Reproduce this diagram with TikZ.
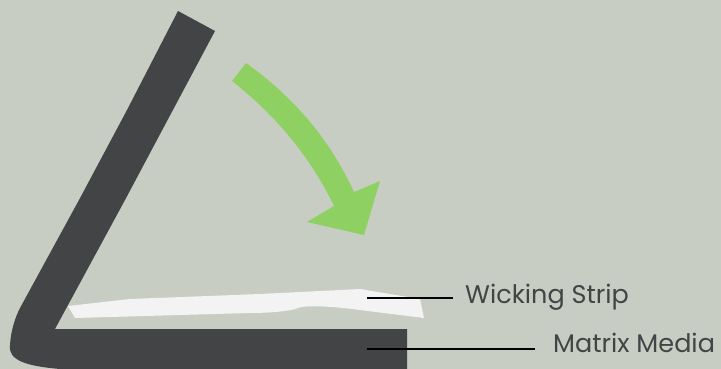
\documentclass[tikz,border=0pt]{standalone}
\usepackage{fontspec}
\setmainfont{Poppins}
\definecolor{bg}{HTML}{C8CDC3}
\definecolor{dark}{HTML}{434446}
\definecolor{strip}{HTML}{F3F3F3}
\definecolor{arrowgreen}{HTML}{8FD063}
\tikzset{
  leader/.style={draw=black, line width=2.8pt},
  lbl/.style={anchor=base west, inner sep=0pt, text=dark, font=\fontsize{25.5}{28}\selectfont}
}
\begin{document}
\begin{tikzpicture}[x=1pt,y=-1pt]
\fill[bg] (0,0) rectangle (721,369);
\useasboundingbox (0,0) rectangle (721,369);
% dark L-shaped media
\fill[dark] (178,11) -- (215,31) -- (125,200) -- (55,329) -- (407,329) -- (407,369) -- (60,369)
  .. controls (25,366) and (8,360) .. (10,345)
  .. controls (11,330) and (15,318) .. (20,308)
  -- (79,200) -- (127,110) -- cycle;
% white wicking strip
\fill[strip] (68,306) -- (130,299) -- (260,294) -- (360,289) -- (420,299) -- (424,318)
  -- (360,310) .. controls (330,306) and (305,305) .. (298,308) .. controls (292,311) and (270,313) .. (250,313)
  -- (75,318) -- cycle;
% green arrow
\fill[arrowgreen] (246,63) .. controls (295,98) and (330,140) .. (354,192) -- (380,181) -- (364,235) -- (307,222) -- (334,206)
  .. controls (310,156) and (275,115) .. (232,81) -- cycle;
% leaders and labels
\coordinate (w1) at (367,298);
\coordinate (m1) at (367,349);
\node[lbl] (wl) at (465,303) {Wicking Strip};
\node[lbl] (ml) at (553,352) {Matrix Media};
\draw[leader] (w1) -- (453,298);
\draw[leader] (m1) -- (535,349);
\end{tikzpicture}
\end{document}
